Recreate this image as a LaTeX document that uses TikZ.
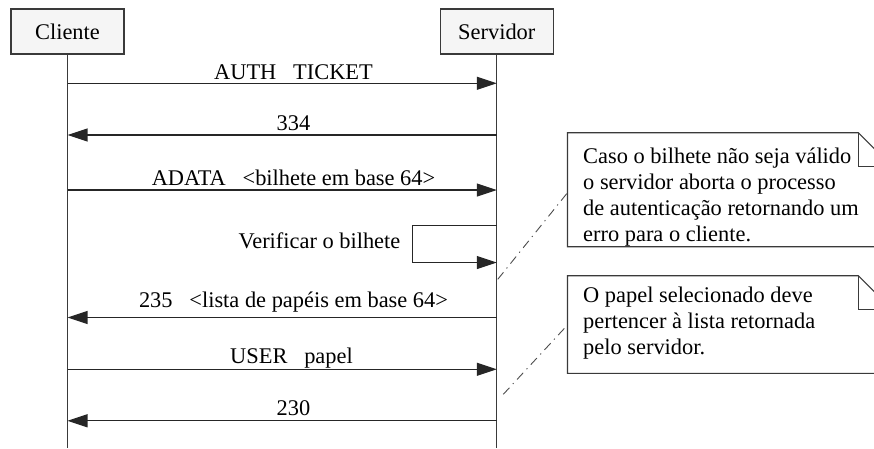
\documentclass[tikz,border=0pt]{standalone}
\usepackage{fontspec}
\setmainfont{Liberation Serif}
\usetikzlibrary{arrows.meta}
\definecolor{edgecol}{HTML}{3A3A3A}
\definecolor{boxfill}{HTML}{F5F5F5}
\newcommand\diagfont{\fontsize{22.4}{25.9}\selectfont}
\begin{document}
\begin{tikzpicture}[x=1pt,y=-1pt,
  font=\diagfont,
  actor/.style={draw=edgecol, fill=boxfill, line width=1.1pt,
    minimum width=113pt, minimum height=45pt, inner sep=0pt},
  life/.style={draw=edgecol, line width=1.1pt},
  msg/.style={draw=black!85, line width=1.1pt,
    -{Triangle[length=20pt,width=13pt]}},
  lbl/.style={anchor=base, inner sep=0pt},
  notebox/.style={draw=edgecol, fill=white, line width=1.1pt},
  notetext/.style={anchor=north west, inner sep=0pt, align=left},
  link/.style={draw=black!70, line width=0.9pt,
    dash pattern=on 9pt off 5pt on 1.2pt off 5pt}]
\clip (0,0) rectangle (874,448);
\useasboundingbox (0,0) rectangle (874,448);

% participants and lifelines
\node[actor] (cli) at (67.5,31.5) {Cliente};
\node[actor] (srv) at (496.8,31.5) {Servidor};
\coordinate (cliE) at (67.5,448);
\coordinate (srvE) at (496.8,448);
\draw[life] (cli.south) -- (cliE);
\draw[life] (srv.south) -- (srvE);

% message end points on the lifelines
\foreach \n/\y in {1/83.3, 2/135, 3/190, 5/317.5, 6/369.3, 7/420.8}{
  \coordinate (c\n) at (67.5,\y);
  \coordinate (s\n) at (496.8,\y);
}
\coordinate (v1) at (496.8,225.3);
\coordinate (v2) at (412.8,225.3);
\coordinate (v3) at (412.8,262.5);
\coordinate (v4) at (496.8,262.5);

% messages
\draw[msg] (c1) -- (s1);
\draw[msg] (s2) -- (c2);
\draw[msg] (c3) -- (s3);
\draw[msg] (v1) -- (v2) -- (v3) -- (v4);
\draw[msg] (s5) -- (c5);
\draw[msg] (c6) -- (s6);
\draw[msg] (s7) -- (c7);

% message labels
\node[lbl] (m1) at (293.5,79) {AUTH~~~TICKET};
\node[lbl] (m2) at (293.5,130.5) {334};
\node[lbl] (m3) at (293.5,185) {ADATA~~~<bilhete em base 64>};
\node[lbl, anchor=base east] (m4) at (400.5,248.5) {Verificar o bilhete};
\node[lbl] (m5) at (293.5,307.5) {235~~~<lista de papéis em base 64>};
\node[lbl] (m6) at (291.5,363.5) {USER~~~papel};
\node[lbl] (m7) at (293.5,415.5) {230};

% first note
\path[notebox] (567.5,132.7) -- (858.4,132.7) -- (892.4,166.7)
  -- (892.4,246.7) -- (567.5,246.7) -- cycle;
\draw[notebox, fill=none] (858.4,132.7) -- (858.4,166.7) -- (892.4,166.7);
\node[notetext] (n1) at (583,147.6)
  {Caso o bilhete não seja válido\\o servidor aborta o processo\\de autenticação retornando um\\erro para o cliente.};
\coordinate (n1a) at (497.8,279.3);
\coordinate (n1b) at (567.5,192.7);
\draw[link] (n1a) -- (n1b);

% second note
\path[notebox] (567.5,275.7) -- (858.4,275.7) -- (892.4,309.7)
  -- (892.4,373.3) -- (567.5,373.3) -- cycle;
\draw[notebox, fill=none] (858.4,275.7) -- (858.4,309.7) -- (892.4,309.7);
\node[notetext] (n2) at (583,286.8)
  {O papel selecionado deve\\pertencer à lista retornada\\pelo servidor.};
\coordinate (n2a) at (503.3,394.3);
\coordinate (n2b) at (567.5,325);
\draw[link] (n2a) -- (n2b);
\end{tikzpicture}
\end{document}
